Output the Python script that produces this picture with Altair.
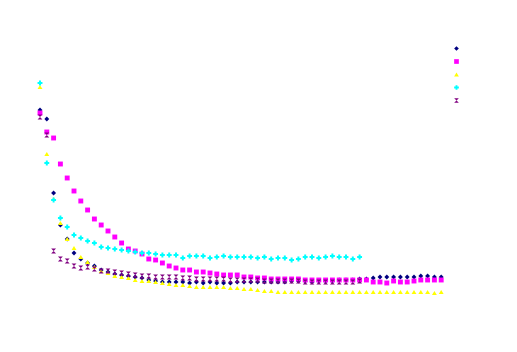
import altair as alt
import pandas as pd

series_names = ["series 1", "series 2", "series 3", "series 4", "series 5"]
series_colors = ["#000080", "#FF00FF", "#FFFF00", "#00FFFF", "#800080"]
hourglass = "M-1,-1L1,-1L-1,1L1,1Z"
series_shapes = ["diamond", "square", "triangle-up", "cross", hourglass]

navy = [19.0, 18.1, 10.7, 7.5, 6.1, 4.7, 4.1, 3.7, 3.4, 3.0,
        2.8, 2.6, 2.5, 2.4, 2.3, 2.2, 2.0, 1.9, 1.8, 1.8,
        1.8, 1.8, 1.7, 1.8, 1.7, 1.8, 1.7, 1.7, 1.7, 1.8,
        1.8, 1.8, 1.8, 1.8, 1.8, 1.8, 1.8, 1.9, 1.9, 1.9,
        1.8, 1.9, 1.9, 1.9, 2.0, 2.0, 2.0, 2.1, 2.1, 2.2,
        2.3, 2.3, 2.3, 2.3, 2.3, 2.3, 2.4, 2.4, 2.3, 2.3]
magenta = [18.7, 16.8, 16.2, 13.6, 12.2, 10.9, 9.9, 9.0, 8.1, 7.5,
           6.9, 6.3, 5.7, 5.1, 4.9, 4.6, 4.1, 4.0, 3.7, 3.4,
           3.2, 3.0, 3.0, 2.8, 2.8, 2.7, 2.6, 2.5, 2.5, 2.5,
           2.3, 2.3, 2.2, 2.2, 2.1, 2.1, 2.1, 2.1, 2.1, 2.0,
           2.0, 2.0, 2.0, 2.0, 2.0, 2.0, 2.0, 2.0, 2.0, 1.8,
           1.8, 1.7, 1.9, 1.8, 1.8, 1.9, 2.0, 2.0, 2.0, 2.0]
yellow = [21.3, 14.6, 10.1, 7.7, 6.1, 5.2, 4.3, 3.8, 3.3, 2.9,
          2.7, 2.4, 2.3, 2.2, 2.0, 1.9, 1.9, 1.8, 1.7, 1.6,
          1.5, 1.5, 1.4, 1.3, 1.3, 1.3, 1.3, 1.3, 1.2, 1.2,
          1.1, 1.1, 1.0, 0.9, 0.9, 0.8, 0.8, 0.8, 0.8, 0.8,
          0.8, 0.8, 0.8, 0.8, 0.8, 0.8, 0.8, 0.8, 0.8, 0.8,
          0.8, 0.8, 0.8, 0.8, 0.8, 0.8, 0.8, 0.8, 0.7, 0.8]
cyan = [21.7, 13.7, 10.0, 8.2, 7.3, 6.5, 6.2, 5.9, 5.7, 5.3,
        5.2, 5.1, 5.0, 4.9, 4.8, 4.7, 4.7, 4.6, 4.5, 4.5,
        4.5, 4.2, 4.4, 4.4, 4.4, 4.2, 4.3, 4.4, 4.3, 4.3,
        4.3, 4.3, 4.2, 4.3, 4.1, 4.2, 4.2, 4.0, 4.1, 4.3,
        4.3, 4.2, 4.3, 4.4, 4.3, 4.3, 4.1, 4.3]
purple = [18.3, 16.5, 4.9, 4.1, 3.9, 3.4, 3.2, 3.3, 3.1, 2.9,
          2.9, 2.8, 2.7, 2.6, 2.5, 2.4, 2.4, 2.3, 2.3, 2.3,
          2.3, 2.2, 2.2, 2.1, 2.1, 2.1, 2.1, 2.1, 2.0, 2.0,
          2.0, 2.0, 2.0, 1.9, 1.9, 1.9, 1.9, 1.9, 1.9, 1.8,
          1.8, 1.8, 1.8, 1.8, 1.8, 1.8, 1.8, 1.9]

all_series = [navy, magenta, yellow, cyan, purple]
rows = []
for name, vals in zip(series_names, all_series):
    for i, v in enumerate(vals):
        rows.append({"series": name, "step": i, "value": v})
df = pd.DataFrame(rows)

legend = alt.Legend(
    orient="none", legendX=454, legendY=46, title=None,
    labelExpr="''", labelFontSize=1, symbolSize=22,
    rowPadding=8, padding=0, symbolStrokeWidth=0,
)

chart = alt.Chart(df).mark_point(filled=True, size=24, opacity=1, strokeWidth=0).encode(
    x=alt.X("step:Q", axis=None, scale=alt.Scale(domain=[-5.882, 70.147], nice=False, zero=False)),
    y=alt.Y("value:Q", axis=None, scale=alt.Scale(domain=[-5.2, 30.0], nice=False, zero=False)),
    color=alt.Color("series:N", scale=alt.Scale(domain=series_names, range=series_colors), legend=legend),
    shape=alt.Shape("series:N", scale=alt.Scale(domain=series_names, range=series_shapes), legend=legend),
    order=alt.Order("step:Q"),
).properties(
    width=517, height=352, autosize=alt.AutoSizeParams(type="none"), padding=0,
).configure(
    background="white", view=alt.ViewConfig(stroke=None),
)

chart.save("out.html", embed_options={"renderer": "svg", "actions": False})
